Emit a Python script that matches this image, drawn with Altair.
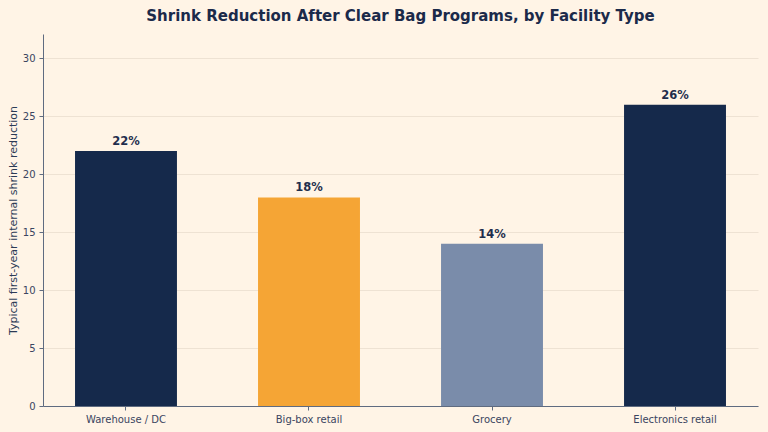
import altair as alt
import pandas as pd

categories = ["Warehouse / DC", "Big-box retail", "Grocery", "Electronics retail"]
values = [22, 18, 14, 26]
colors = ["#15294B", "#F5A535", "#7A8CAA", "#15294B"]

df = pd.DataFrame({"cat": categories, "val": values, "label": [f"{v}%" for v in values]})

x = alt.X("cat:N", sort=categories, title=None,
          scale=alt.Scale(paddingInner=0.443, paddingOuter=0.175),
          axis=alt.Axis(labelAngle=0, labelFont="DejaVu Sans", labelFontSize=10,
                        labelColor="#3A4560", domainColor="#5F6B80", tickColor="#5F6B80",
                        tickSize=4, labelPadding=4, grid=False))
y = alt.Y("val:Q", title="Typical first-year internal shrink reduction",
          scale=alt.Scale(domain=[0, 32.1], nice=False),
          axis=alt.Axis(values=[0, 5, 10, 15, 20, 25, 30], labelFont="DejaVu Sans", labelFontSize=10,
                        labelColor="#3A4560", domainColor="#5F6B80", tickColor="#5F6B80",
                        tickSize=4, labelPadding=4, gridColor="#EEE2D3", gridWidth=1,
                        titleFont="DejaVu Sans", titleFontSize=11, titleFontWeight="normal",
                        titleColor="#2B3A55", titlePadding=4))

bars = alt.Chart(df).mark_bar(stroke=None).encode(
    x=x, y=y,
    color=alt.Color("cat:N", scale=alt.Scale(domain=categories, range=colors), legend=None),
)
text = alt.Chart(df).mark_text(dy=-9, font="DejaVu Sans", fontSize=11.5, fontWeight="bold",
                               color="#1F2E4D").encode(
    x=alt.X("cat:N", sort=categories), y="val:Q", text="label:N")

chart = (bars + text).properties(
    width=715, height=372,
    autosize=alt.AutoSizeParams(type="none"),
    padding={"left": 43, "top": 34, "right": 10, "bottom": 26},
    background="#FFF4E6",
    title=alt.TitleParams("Shrink Reduction After Clear Bag Programs, by Facility Type",
                          font="DejaVu Sans", fontSize=15, fontWeight="bold",
                          color="#1B2A4A", anchor="middle", offset=10),
).configure_view(stroke=None).configure_axis(domainWidth=1)

chart.save("out.html", embed_options={"renderer": "svg", "actions": False})
